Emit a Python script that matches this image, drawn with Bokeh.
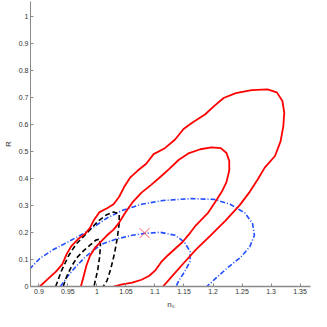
from bokeh.plotting import figure
from bokeh.models import Range1d, FixedTicker
from bokeh.embed import file_html
from bokeh.resources import INLINE

# ---- data ----
red_outer_x = [0.9016, 0.9161, 0.9289, 0.9402, 0.9482, 0.9563, 0.9675, 0.9804, 0.9884, 0.9949,
               1.0045, 1.0174, 1.0286, 1.0383, 1.0479, 1.0576, 1.0704, 1.0849, 1.0977, 1.1170,
               1.1347, 1.1492, 1.1653, 1.1862, 1.2023, 1.2183, 1.2392, 1.2666, 1.2939, 1.3100,
               1.3196, 1.3228, 1.3212, 1.3164, 1.3068, 1.2891, 1.2762, 1.2633, 1.2457, 1.2215,
               1.1942, 1.1701, 1.1508, 1.1315, 1.1138]
red_outer_y = [0.000, 0.029, 0.054, 0.082, 0.122, 0.151, 0.176, 0.197, 0.219, 0.247,
               0.276, 0.290, 0.305, 0.333, 0.373, 0.405, 0.430, 0.455, 0.491, 0.513,
               0.545, 0.584, 0.609, 0.638, 0.670, 0.699, 0.717, 0.728, 0.731, 0.720,
               0.688, 0.645, 0.595, 0.538, 0.484, 0.441, 0.394, 0.351, 0.301, 0.244,
               0.186, 0.136, 0.090, 0.043, 0.000]

red_inner_x = [0.9723, 0.9772, 0.9820, 0.9884, 0.9965, 1.0061, 1.0174, 1.0286, 1.0383, 1.0495,
               1.0624, 1.0768, 1.0929, 1.1106, 1.1251, 1.1412, 1.1588, 1.1781, 1.1974, 1.2135,
               1.2232, 1.2280, 1.2280, 1.2232, 1.2151, 1.2055, 1.1910, 1.1701, 1.1588, 1.1476,
               1.1347, 1.1219, 1.1106, 1.1010, 1.0897, 1.0768, 1.0608, 1.0415, 1.0286]
red_inner_y = [0.000, 0.039, 0.079, 0.115, 0.143, 0.165, 0.190, 0.211, 0.237, 0.276,
               0.315, 0.348, 0.376, 0.409, 0.437, 0.470, 0.495, 0.509, 0.516, 0.513,
               0.495, 0.466, 0.430, 0.387, 0.351, 0.319, 0.272, 0.226, 0.194, 0.165,
               0.140, 0.115, 0.090, 0.061, 0.039, 0.025, 0.014, 0.007, 0.000]

black_outer_x = [0.9289, 0.9386, 0.9514, 0.9643, 0.9772, 0.9900, 1.0029, 1.0158, 1.0286, 1.0383,
                 1.0383, 1.0350, 1.0302, 1.0238, 1.0174, 1.0109]
black_outer_y = [0.000, 0.057, 0.115, 0.158, 0.186, 0.215, 0.244, 0.265, 0.276, 0.269,
                 0.233, 0.179, 0.122, 0.065, 0.022, 0.000]

black_inner_x = [0.9418, 0.9482, 0.9563, 0.9659, 0.9772, 0.9884, 0.9981, 1.0045, 1.0061, 1.0045,
                 1.0013, 0.9949]
black_inner_y = [0.000, 0.039, 0.075, 0.108, 0.133, 0.154, 0.172, 0.176, 0.151, 0.108,
                 0.061, 0.000]

blue_outer_x = [0.8727, 0.8855, 0.9016, 0.9241, 0.9498, 0.9772, 0.9981, 1.0174, 1.0447, 1.0768,
                1.1138, 1.1621, 1.2023, 1.2296, 1.2553, 1.2682, 1.2714, 1.2633, 1.2473, 1.2264,
                1.2055, 1.1894]
blue_outer_y = [0.036, 0.068, 0.104, 0.136, 0.165, 0.197, 0.226, 0.254, 0.283, 0.305,
                0.319, 0.326, 0.323, 0.305, 0.272, 0.233, 0.190, 0.147, 0.108, 0.072,
                0.032, 0.000]

blue_inner_x = [0.9370, 0.9498, 0.9643, 0.9772, 0.9932, 1.0093, 1.0334, 1.0608, 1.0817, 1.1090,
                1.1347, 1.1508, 1.1605, 1.1605, 1.1508, 1.1412, 1.1363]
blue_inner_y = [0.000, 0.039, 0.075, 0.104, 0.133, 0.158, 0.176, 0.190, 0.197, 0.201,
                0.190, 0.165, 0.129, 0.093, 0.054, 0.022, 0.000]

best_fit_x = [1.082]
best_fit_y = [0.198]

x_ticks = [0.9, 0.95, 1.0, 1.05, 1.1, 1.15, 1.2, 1.25, 1.3, 1.35]
x_tick_labels = ["0.9", "0.95", "1", "1.05", "1.1", "1.15", "1.2", "1.25", "1.3", "1.35"]
y_ticks = [0.0, 0.1, 0.2, 0.3, 0.4, 0.5, 0.6, 0.7, 0.8, 0.9, 1.0]
y_tick_labels = ["0", "0.1", "0.2", "0.3", "0.4", "0.5", "0.6", "0.7", "0.8", "0.9", "1"]

X_MIN, X_MAX = 0.8855, 1.368
Y_MIN, Y_MAX = 0.0, 1.057

p = figure(width=311, height=311, output_backend="svg", toolbar_location=None,
           x_range=Range1d(X_MIN, X_MAX), y_range=Range1d(Y_MIN, Y_MAX),
           min_border_left=10, min_border_right=1, min_border_top=1, min_border_bottom=10,
           x_axis_label="nₛ", y_axis_label="R")
p.outline_line_color = None
p.grid.visible = False
p.background_fill_color = "white"
p.border_fill_color = "white"

FONT = "Liberation Sans"
for ax in (p.xaxis[0], p.yaxis[0]):
    ax.axis_line_color = "#8a8a8a"
    ax.major_tick_line_color = "#8a8a8a"
    ax.major_tick_in = 3
    ax.major_tick_out = 0
    ax.minor_tick_line_color = None
    ax.major_label_text_font = FONT
    ax.major_label_text_font_size = "7px"
    ax.major_label_text_color = "#333333"
    ax.major_label_standoff = 2
    ax.axis_label_text_font = FONT
    ax.axis_label_text_font_size = "8px"
    ax.axis_label_text_font_style = "normal"
    ax.axis_label_text_color = "#333333"
    ax.axis_label_standoff = 3

p.xaxis[0].ticker = FixedTicker(ticks=x_ticks)
p.xaxis[0].major_label_overrides = {t: l for t, l in zip(x_ticks, x_tick_labels)}
p.xaxis[0].axis_line_width = 1.5
p.yaxis[0].ticker = FixedTicker(ticks=y_ticks)
p.yaxis[0].major_label_overrides = {t: l for t, l in zip(y_ticks, y_tick_labels)}

# contours
p.line(blue_outer_x, blue_outer_y, line_color="#1f4dff", line_width=1.6, line_dash="5 2 1 2")
p.line(blue_inner_x, blue_inner_y, line_color="#1f4dff", line_width=1.6, line_dash="5 2 1 2")
p.line(black_outer_x, black_outer_y, line_color="black", line_width=1.6, line_dash="5 3")
p.line(black_inner_x, black_inner_y, line_color="black", line_width=1.6, line_dash="5 3")
p.line(red_outer_x, red_outer_y, line_color="#ff0000", line_width=1.8, line_join="round")
p.line(red_inner_x, red_inner_y, line_color="#ff0000", line_width=1.8, line_join="round")

p.scatter(best_fit_x, best_fit_y, marker="x", size=14, line_color="#ff5a5a", line_width=1)

open("out.html", "w").write(file_html(p, INLINE))
